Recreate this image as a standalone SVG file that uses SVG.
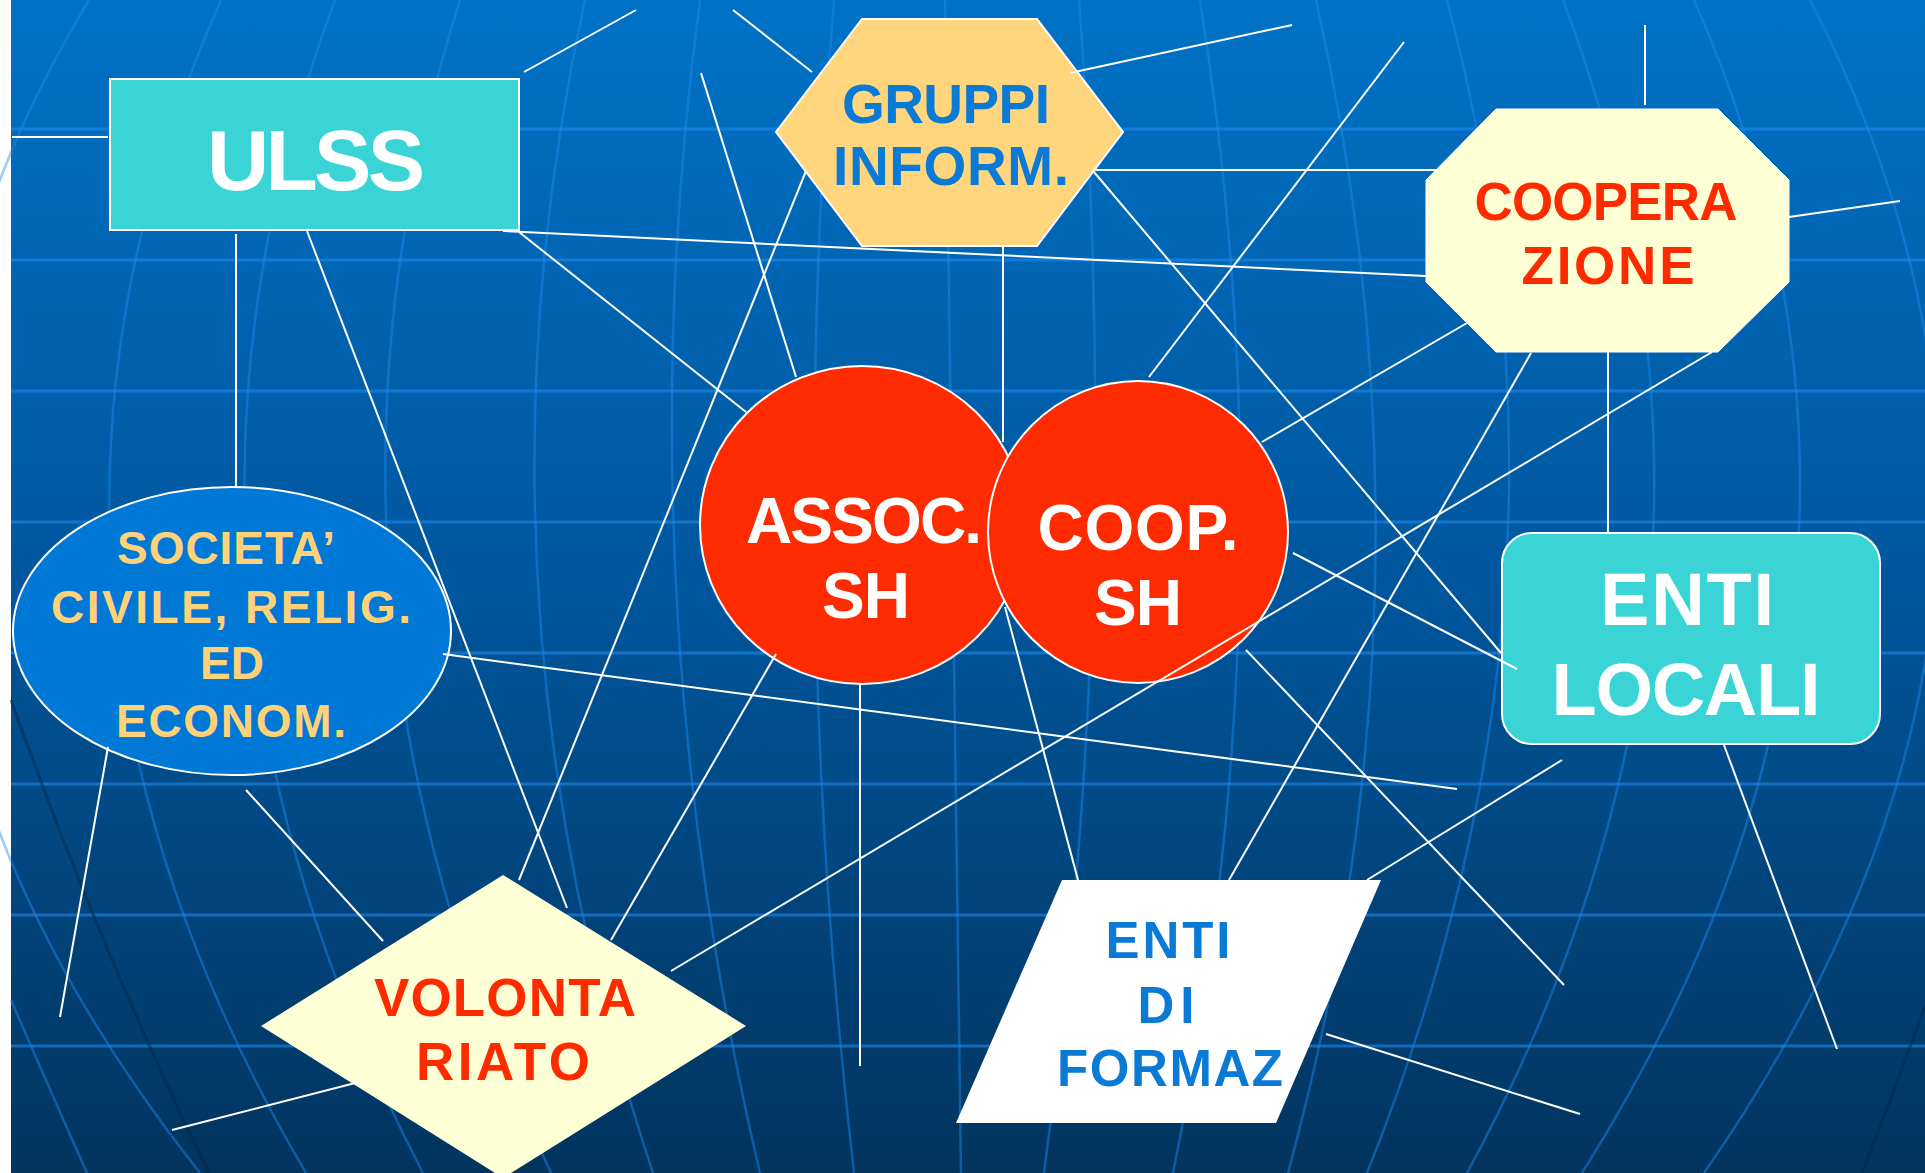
<svg xmlns="http://www.w3.org/2000/svg" width="1925" height="1173" viewBox="0 0 1925 1173">
<defs>
<linearGradient id="bg" x1="0" y1="0" x2="0" y2="1">
<stop offset="0" stop-color="#0072C6"/>
<stop offset="0.5" stop-color="#00569D"/>
<stop offset="1" stop-color="#02345E"/>
</linearGradient>
<style>
.g{fill:none;stroke:#1E8BEF;stroke-opacity:.6;stroke-width:3}
.m{fill:none;stroke:#1E8BEF;stroke-opacity:.45;stroke-width:2.5}
.gd{fill:none;stroke:#02284A;stroke-opacity:.5;stroke-width:3}
.c line{stroke:#fff;stroke-width:2}
.n{stroke:#fff;stroke-width:2}
text{font-family:"Liberation Sans",Arial,sans-serif;font-weight:bold;text-anchor:middle}
.w{fill:#fff}
.r{fill:#FF2B00}
.b{fill:#0A7AD5}
.y{fill:#FFD27A}
</style>
</defs>
<rect x="0" y="0" width="1925" height="1173" fill="#fff"/>
<rect x="11" y="0" width="1914" height="1173" fill="url(#bg)"/>
<g id="grid">
<line class="g" x1="11" y1="129" x2="1925" y2="129"/>
<line class="g" x1="11" y1="260" x2="1925" y2="260"/>
<line class="g" x1="11" y1="391" x2="1925" y2="391"/>
<line class="g" x1="11" y1="522" x2="1925" y2="522"/>
<line class="g" x1="11" y1="653" x2="1925" y2="653"/>
<line class="g" x1="11" y1="784" x2="1925" y2="784"/>
<line class="g" x1="11" y1="915" x2="1925" y2="915"/>
<line class="g" x1="11" y1="1046" x2="1925" y2="1046"/>
<path class="m" d="M89 0 Q-264 586 200 1173"/>
<path class="m" d="M221 0 Q-39 586 306 1173"/>
<path class="m" d="M335 0 Q117 586 423 1173"/>
<path class="m" d="M460 0 Q274 586 551 1173"/>
<path class="m" d="M585 0 Q457 586 653 1173"/>
<path class="m" d="M700 0 Q622 586 760 1173"/>
<path class="m" d="M834 0 Q786 586 854 1173"/>
<path class="m" d="M945 0 Q951 586 961 1173"/>
<path class="m" d="M1079 0 Q1124 586 1044 1173"/>
<path class="m" d="M1200 0 Q1293 586 1173 1173"/>
<path class="m" d="M1316 0 Q1448 586 1288 1173"/>
<path class="m" d="M1447 0 Q1603 586 1367 1173"/>
<path class="m" d="M1563 0 Q1785 586 1467 1173"/>
<path class="m" d="M1694 0 Q1952 586 1582 1173"/>
<path class="m" d="M1810 0 Q2113 586 1704 1173"/>
<path class="m" d="M11 1000 Q50 1090 87 1173"/>
<path class="gd" d="M11 700 Q100 950 209 1173"/>
<path class="gd" d="M1925 1006 Q1895 1090 1862 1173"/>
</g>
<g id="ulss">
<rect class="n" x="110" y="79" width="409" height="151" fill="#3AD4D6"/>
<text class="w" x="316" y="190" font-size="86" textLength="218" lengthAdjust="spacing">ULSS</text>
</g>
<g id="gruppi">
<polygon class="n" stroke-width="2.5" points="862,19 1037,19 1123,132 1037,246 862,246 776,132" fill="#FFD57E"/>
<text class="b" x="946" y="123" font-size="55" textLength="208" lengthAdjust="spacing">GRUPPI</text>
<text class="b" x="951" y="185" font-size="55" textLength="236" lengthAdjust="spacing">INFORM.</text>
</g>
<g id="cooperazione">
<polygon points="1496,109 1718,109 1789,180 1789,282 1718,352 1496,352 1426,282 1426,180" fill="#FFFFD6" stroke="#fff" stroke-width="1"/>
<text class="r" x="1606" y="220" font-size="53" textLength="263" lengthAdjust="spacing">COOPERA</text>
<text class="r" x="1608" y="284" font-size="53" textLength="173" lengthAdjust="spacing">ZIONE</text>
</g>
<g id="societa">
<ellipse class="n" cx="232" cy="631" rx="219" ry="144" fill="#0079D6"/>
<text class="y" x="226" y="564" font-size="46" textLength="218" lengthAdjust="spacing">SOCIETA’</text>
<text class="y" x="231" y="623" font-size="46" textLength="360" lengthAdjust="spacing">CIVILE, RELIG.</text>
<text class="y" x="232" y="679" font-size="46" textLength="64" lengthAdjust="spacing">ED</text>
<text class="y" x="231" y="737" font-size="46" textLength="230" lengthAdjust="spacing">ECONOM.</text>
</g>
<g id="assoc">
<ellipse class="n" cx="862" cy="525" rx="162" ry="159" fill="#FF2B00"/>
<text class="w" x="864" y="543" font-size="64" textLength="236" lengthAdjust="spacing">ASSOC.</text>
<text class="w" x="866" y="618" font-size="64" textLength="88" lengthAdjust="spacing">SH</text>
</g>
<g id="coop">
<ellipse class="n" cx="1138" cy="532" rx="150" ry="151" fill="#FF2B00"/>
<text class="w" x="1138" y="550" font-size="64" textLength="201" lengthAdjust="spacing">COOP.</text>
<text class="w" x="1138" y="625" font-size="64" textLength="88" lengthAdjust="spacing">SH</text>
</g>
<g id="enti-locali">
<rect class="n" x="1502" y="533" width="378" height="211" rx="30" ry="30" fill="#3AD4D6"/>
<text class="w" x="1687" y="625" font-size="74" textLength="174" lengthAdjust="spacing">ENTI</text>
<text class="w" x="1686" y="715" font-size="74" textLength="269" lengthAdjust="spacing">LOCALI</text>
</g>
<g id="volontariato">
<polygon points="503,875 746,1026 503,1178 261,1026" fill="#FFFFD6"/>
<text class="r" x="505" y="1016" font-size="53" textLength="262" lengthAdjust="spacing">VOLONTA</text>
<text class="r" x="503" y="1080" font-size="53" textLength="174" lengthAdjust="spacing">RIATO</text>
</g>
<g id="enti-formaz">
<polygon points="1062,880 1381,880 1276,1123 956,1123" fill="#fff"/>
<text class="b" x="1168" y="958" font-size="51" textLength="125" lengthAdjust="spacing">ENTI</text>
<text class="b" x="1166" y="1023" font-size="51" textLength="57" lengthAdjust="spacing">DI</text>
<text class="b" x="1170" y="1086" font-size="51" textLength="226" lengthAdjust="spacing">FORMAZ</text>
</g>
<g id="connectors" class="c">
<line x1="12" y1="137" x2="108" y2="137"/>
<line x1="524" y1="72" x2="636" y2="10"/>
<line x1="733" y1="10" x2="812" y2="72"/>
<line x1="1070" y1="73" x2="1292" y2="25"/>
<line x1="1645" y1="25" x2="1645" y2="105"/>
<line x1="1789" y1="217" x2="1900" y2="201"/>
<line x1="503" y1="231" x2="1426" y2="276"/>
<line x1="519" y1="232" x2="746" y2="412"/>
<line x1="236" y1="234" x2="236" y2="487"/>
<line x1="307" y1="231" x2="567" y2="908"/>
<line x1="806" y1="171" x2="519" y2="880"/>
<line x1="701" y1="73" x2="796" y2="377"/>
<line x1="1003" y1="247" x2="1003" y2="442"/>
<line x1="1095" y1="170" x2="1438" y2="170"/>
<line x1="1094" y1="172" x2="1501" y2="653"/>
<line x1="1404" y1="42" x2="1149" y2="377"/>
<line x1="1467" y1="323" x2="1262" y2="442"/>
<line x1="1531" y1="353" x2="1229" y2="880"/>
<line x1="1562" y1="760" x2="1367" y2="880"/>
<line x1="1608" y1="352" x2="1608" y2="533"/>
<line x1="1712" y1="352" x2="671" y2="971"/>
<line x1="1293" y1="553" x2="1517" y2="669"/>
<line x1="443" y1="654" x2="1457" y2="789"/>
<line x1="776" y1="654" x2="611" y2="940"/>
<line x1="860" y1="683" x2="860" y2="1066"/>
<line x1="1005" y1="607" x2="1078" y2="880"/>
<line x1="1246" y1="650" x2="1564" y2="985"/>
<line x1="1326" y1="1034" x2="1580" y2="1114"/>
<line x1="1724" y1="745" x2="1837" y2="1049"/>
<line x1="108" y1="747" x2="60" y2="1017"/>
<line x1="246" y1="790" x2="383" y2="941"/>
<line x1="363" y1="1081" x2="172" y2="1130"/>
</g>
</svg>
